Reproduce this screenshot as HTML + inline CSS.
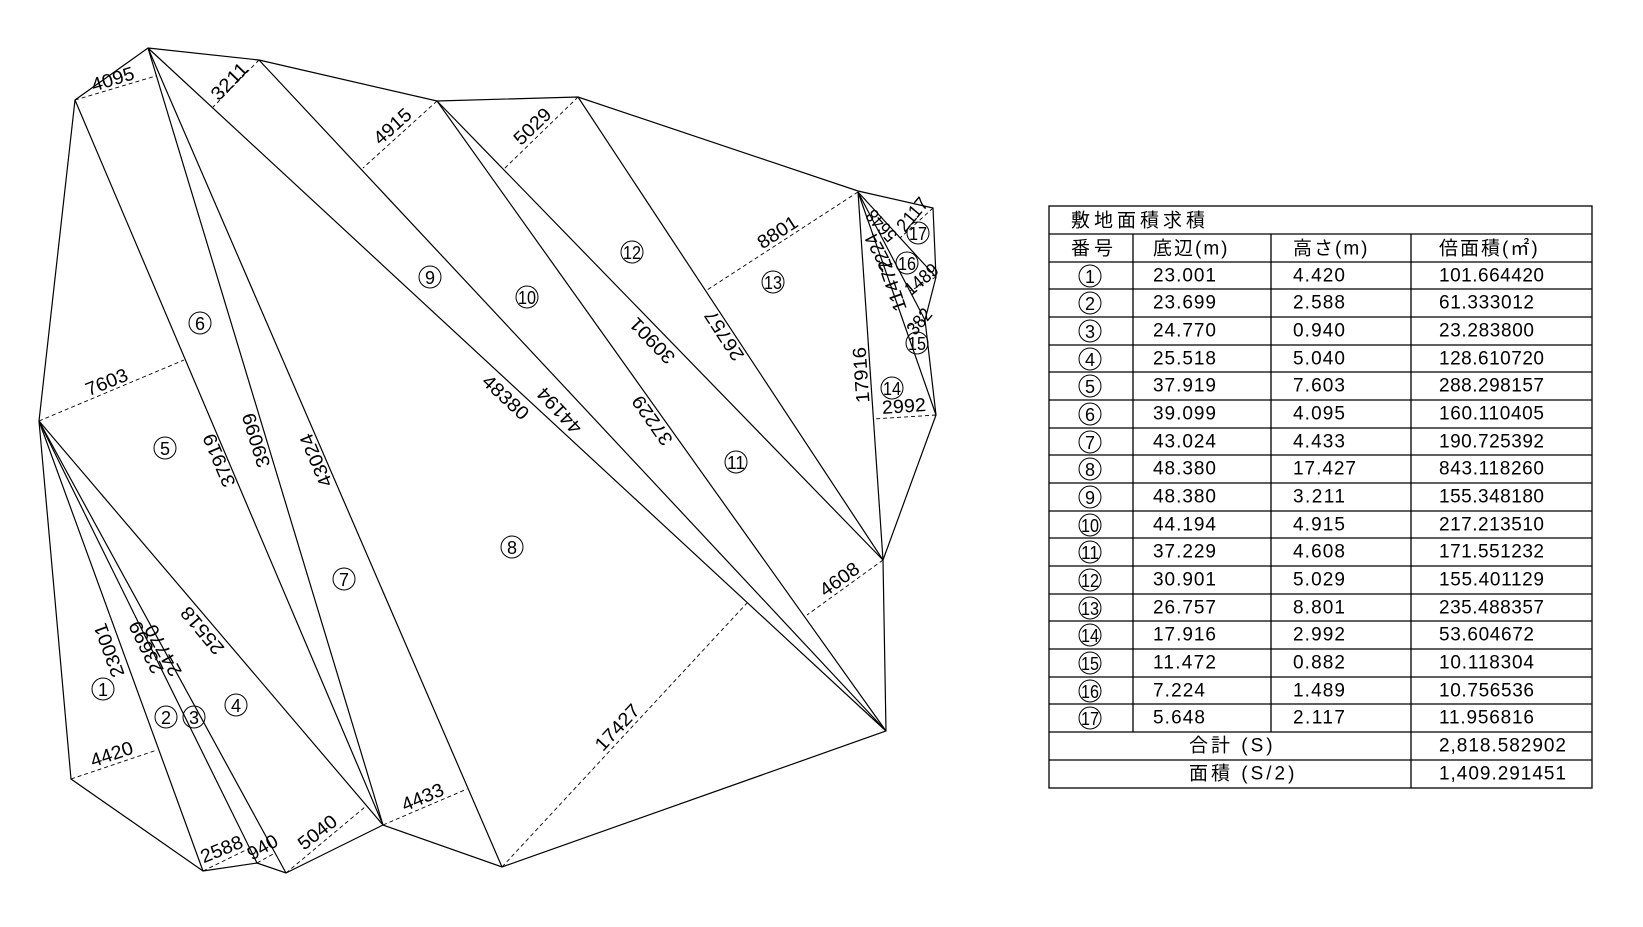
<!DOCTYPE html>
<html><head><meta charset="utf-8"><style>
html,body{margin:0;padding:0;background:#fff;width:1643px;height:927px;overflow:hidden}
svg{display:block;position:absolute;left:0;top:0}
</style></head><body>
<svg width="1643" height="927" viewBox="0 0 1643 927" xmlns="http://www.w3.org/2000/svg" font-family="'Liberation Sans', sans-serif">
<g fill="none" stroke="#000" stroke-width="1.2">
<polygon points="148,48 259,60 437,101 578,97 858,191 933,208 936,277 925,320 936,415 883,560 886,731 502,867 383,825 286,873 257,863 203,871 71,779 39,421 75,100"/>
<line x1="148" y1="48" x2="383" y2="825"/>
<line x1="148" y1="48" x2="502" y2="867"/>
<line x1="148" y1="48" x2="886" y2="731"/>
<line x1="75" y1="100" x2="383" y2="825"/>
<line x1="39" y1="421" x2="203" y2="871"/>
<line x1="39" y1="421" x2="257" y2="863"/>
<line x1="39" y1="421" x2="286" y2="873"/>
<line x1="39" y1="421" x2="383" y2="825"/>
<line x1="259" y1="60" x2="886" y2="731"/>
<line x1="437" y1="101" x2="886" y2="731"/>
<line x1="437" y1="101" x2="883" y2="560"/>
<line x1="578" y1="97" x2="883" y2="560"/>
<line x1="858" y1="192" x2="883" y2="560"/>
<line x1="858" y1="192" x2="936" y2="415"/>
<line x1="858" y1="192" x2="925" y2="320"/>
<line x1="858" y1="192" x2="936" y2="277"/>
</g>
<g fill="none" stroke="#000" stroke-width="0.9" stroke-dasharray="4,3">
<line x1="75" y1="100" x2="156" y2="76"/>
<line x1="259" y1="60" x2="213" y2="107"/>
<line x1="437" y1="101" x2="363" y2="168"/>
<line x1="39" y1="421" x2="184" y2="360"/>
<line x1="578" y1="97" x2="504" y2="169"/>
<line x1="858" y1="192" x2="707" y2="290"/>
<line x1="71" y1="779" x2="157" y2="750"/>
<line x1="203" y1="871" x2="250" y2="848"/>
<line x1="257" y1="863" x2="275" y2="853"/>
<line x1="286" y1="873" x2="365" y2="807"/>
<line x1="383" y1="825" x2="467" y2="789"/>
<line x1="502" y1="867" x2="747" y2="603"/>
<line x1="883" y1="560" x2="807" y2="615"/>
<line x1="936" y1="415" x2="873" y2="419"/>
<line x1="925" y1="320" x2="905" y2="327"/>
<line x1="936" y1="277" x2="910" y2="291"/>
<line x1="933" y1="208" x2="900" y2="238"/>
</g>
<g font-size="19" fill="#000" text-anchor="middle" dominant-baseline="central">
<text transform="translate(113,80) rotate(-17)" textLength="44" lengthAdjust="spacingAndGlyphs">4095</text>
<text transform="translate(230,82) rotate(-46)" textLength="44" lengthAdjust="spacingAndGlyphs">3211</text>
<text transform="translate(393,127) rotate(-42)" textLength="44" lengthAdjust="spacingAndGlyphs">4915</text>
<text transform="translate(107,383) rotate(-22)" textLength="44" lengthAdjust="spacingAndGlyphs">7603</text>
<text transform="translate(533,127) rotate(-44)" textLength="44" lengthAdjust="spacingAndGlyphs">5029</text>
<text transform="translate(778,233) rotate(-33)" textLength="44" lengthAdjust="spacingAndGlyphs">8801</text>
<text transform="translate(505,398) rotate(43)" textLength="56" lengthAdjust="spacingAndGlyphs">48380</text>
<text transform="translate(560,410) rotate(-133)" textLength="56" lengthAdjust="spacingAndGlyphs">44194</text>
<text transform="translate(653,420) rotate(-125)" textLength="56" lengthAdjust="spacingAndGlyphs">37229</text>
<text transform="translate(653,340) rotate(-134)" textLength="56" lengthAdjust="spacingAndGlyphs">30901</text>
<text transform="translate(725,335) rotate(-123)" textLength="56" lengthAdjust="spacingAndGlyphs">26757</text>
<text transform="translate(862,375) rotate(-94)" textLength="56" lengthAdjust="spacingAndGlyphs">17916</text>
<text transform="translate(893,285) rotate(-109)" textLength="54" lengthAdjust="spacingAndGlyphs">11472</text>
<text transform="translate(880,252) rotate(-118)" textLength="40" lengthAdjust="spacingAndGlyphs">7224</text>
<text transform="translate(882,225) rotate(-132)" textLength="36" lengthAdjust="spacingAndGlyphs">5648</text>
<text transform="translate(913,215) rotate(-50)" textLength="38" lengthAdjust="spacingAndGlyphs">2117</text>
<text transform="translate(922,280) rotate(-40)" textLength="38" lengthAdjust="spacingAndGlyphs">1489</text>
<text transform="translate(920,322) rotate(-50)" textLength="28" lengthAdjust="spacingAndGlyphs">382</text>
<text transform="translate(904,407) rotate(-4)" textLength="44" lengthAdjust="spacingAndGlyphs">2992</text>
<text transform="translate(840,580) rotate(-36)" textLength="44" lengthAdjust="spacingAndGlyphs">4608</text>
<text transform="translate(618,728) rotate(-47)" textLength="56" lengthAdjust="spacingAndGlyphs">17427</text>
<text transform="translate(423,798) rotate(-23)" textLength="44" lengthAdjust="spacingAndGlyphs">4433</text>
<text transform="translate(318,833) rotate(-38)" textLength="44" lengthAdjust="spacingAndGlyphs">5040</text>
<text transform="translate(263,848) rotate(-30)" textLength="32" lengthAdjust="spacingAndGlyphs">940</text>
<text transform="translate(222,850) rotate(-22)" textLength="44" lengthAdjust="spacingAndGlyphs">2588</text>
<text transform="translate(112,755) rotate(-19)" textLength="44" lengthAdjust="spacingAndGlyphs">4420</text>
<text transform="translate(220,460) rotate(-113)" textLength="56" lengthAdjust="spacingAndGlyphs">37919</text>
<text transform="translate(257,440) rotate(-107)" textLength="56" lengthAdjust="spacingAndGlyphs">39099</text>
<text transform="translate(317,460) rotate(-113)" textLength="56" lengthAdjust="spacingAndGlyphs">43024</text>
<text transform="translate(203,630) rotate(-130)" textLength="56" lengthAdjust="spacingAndGlyphs">25518</text>
<text transform="translate(110,650) rotate(-110)" textLength="56" lengthAdjust="spacingAndGlyphs">23001</text>
<text transform="translate(147,647) rotate(-116)" textLength="56" lengthAdjust="spacingAndGlyphs">23699</text>
<text transform="translate(164,650) rotate(-119)" textLength="56" lengthAdjust="spacingAndGlyphs">24770</text>
</g>
<g font-size="18" fill="#000" text-anchor="middle" dominant-baseline="central">
<g fill="none" stroke="#000" stroke-width="1">
<circle cx="103" cy="689" r="11"/><circle cx="166" cy="717" r="11"/><circle cx="194" cy="717" r="11"/><circle cx="236" cy="705" r="11"/>
<circle cx="165" cy="448" r="11"/><circle cx="200" cy="323" r="11"/><circle cx="344" cy="579" r="11"/><circle cx="512" cy="547" r="11"/>
<circle cx="430" cy="277" r="11"/><circle cx="527" cy="297" r="11"/><circle cx="736" cy="462" r="11"/><circle cx="632" cy="252" r="11"/>
<circle cx="773" cy="282" r="11"/><circle cx="892" cy="388" r="11"/><circle cx="917" cy="343" r="11"/><circle cx="907" cy="263" r="11"/><circle cx="918" cy="233" r="11"/>
</g>
<text x="103" y="690">1</text><text x="166" y="718">2</text><text x="194" y="718">3</text><text x="236" y="706">4</text>
<text x="165" y="449">5</text><text x="200" y="324">6</text><text x="344" y="580">7</text><text x="512" y="548">8</text>
<text x="430" y="278">9</text>
<text x="527" y="298" textLength="18" lengthAdjust="spacingAndGlyphs">10</text>
<text x="736" y="463" textLength="18" lengthAdjust="spacingAndGlyphs">11</text>
<text x="632" y="253" textLength="18" lengthAdjust="spacingAndGlyphs">12</text>
<text x="773" y="283" textLength="18" lengthAdjust="spacingAndGlyphs">13</text>
<text x="892" y="389" textLength="18" lengthAdjust="spacingAndGlyphs">14</text>
<text x="917" y="344" textLength="18" lengthAdjust="spacingAndGlyphs">15</text>
<text x="907" y="264" textLength="18" lengthAdjust="spacingAndGlyphs">16</text>
<text x="918" y="234" textLength="18" lengthAdjust="spacingAndGlyphs">17</text>
</g>
</svg>

<svg width="1643" height="927" viewBox="0 0 1643 927" xmlns="http://www.w3.org/2000/svg" font-family="'Liberation Sans','Noto Sans CJK JP',sans-serif">
<g stroke="#000" stroke-width="1.3" fill="none">
<rect x="1049" y="206" width="543" height="582"/>
<line x1="1049" y1="234" x2="1592" y2="234"/>
<line x1="1049" y1="262" x2="1592" y2="262"/>
<line x1="1049" y1="289" x2="1592" y2="289"/>
<line x1="1049" y1="317" x2="1592" y2="317"/>
<line x1="1049" y1="345" x2="1592" y2="345"/>
<line x1="1049" y1="372" x2="1592" y2="372"/>
<line x1="1049" y1="400" x2="1592" y2="400"/>
<line x1="1049" y1="428" x2="1592" y2="428"/>
<line x1="1049" y1="455" x2="1592" y2="455"/>
<line x1="1049" y1="483" x2="1592" y2="483"/>
<line x1="1049" y1="511" x2="1592" y2="511"/>
<line x1="1049" y1="538" x2="1592" y2="538"/>
<line x1="1049" y1="566" x2="1592" y2="566"/>
<line x1="1049" y1="594" x2="1592" y2="594"/>
<line x1="1049" y1="621" x2="1592" y2="621"/>
<line x1="1049" y1="649" x2="1592" y2="649"/>
<line x1="1049" y1="677" x2="1592" y2="677"/>
<line x1="1049" y1="704" x2="1592" y2="704"/>
<line x1="1049" y1="732" x2="1592" y2="732"/>
<line x1="1049" y1="760" x2="1592" y2="760"/>
<line x1="1133" y1="234" x2="1133" y2="732"/>
<line x1="1271" y1="234" x2="1271" y2="732"/>
<line x1="1411" y1="234" x2="1411" y2="788"/>
</g>
<g fill="none" stroke="#000" stroke-width="1">
<circle cx="1090" cy="276" r="11"/><circle cx="1090" cy="303" r="11"/><circle cx="1090" cy="331" r="11"/><circle cx="1090" cy="359" r="11"/>
<circle cx="1090" cy="386" r="11"/><circle cx="1090" cy="414" r="11"/><circle cx="1090" cy="442" r="11"/><circle cx="1090" cy="469" r="11"/>
<circle cx="1090" cy="497" r="11"/><circle cx="1090" cy="525" r="11"/><circle cx="1090" cy="552" r="11"/><circle cx="1090" cy="580" r="11"/>
<circle cx="1090" cy="608" r="11"/><circle cx="1090" cy="635" r="11"/><circle cx="1090" cy="663" r="11"/><circle cx="1090" cy="691" r="11"/><circle cx="1090" cy="718" r="11"/>
</g>
<g font-size="19" fill="#000" dominant-baseline="central">
<text x="1071" y="221" letter-spacing="4">敷地面積求積</text>
<text x="1071" y="249" letter-spacing="4">番号</text>
<text x="1153" y="249" letter-spacing="2">底辺(m)</text>
<text x="1293" y="249" letter-spacing="2">高さ(m)</text>
<text x="1439" y="249" letter-spacing="2">倍面積(㎡)</text>
<g text-anchor="middle" font-size="18">
<text x="1090" y="277">1</text><text x="1090" y="304">2</text><text x="1090" y="332">3</text><text x="1090" y="360">4</text>
<text x="1090" y="387">5</text><text x="1090" y="415">6</text><text x="1090" y="443">7</text><text x="1090" y="470">8</text>
<text x="1090" y="498">9</text>
<text x="1090" y="526" textLength="18" lengthAdjust="spacingAndGlyphs">10</text>
<text x="1090" y="553" textLength="18" lengthAdjust="spacingAndGlyphs">11</text>
<text x="1090" y="581" textLength="18" lengthAdjust="spacingAndGlyphs">12</text>
<text x="1090" y="609" textLength="18" lengthAdjust="spacingAndGlyphs">13</text>
<text x="1090" y="636" textLength="18" lengthAdjust="spacingAndGlyphs">14</text>
<text x="1090" y="664" textLength="18" lengthAdjust="spacingAndGlyphs">15</text>
<text x="1090" y="692" textLength="18" lengthAdjust="spacingAndGlyphs">16</text>
<text x="1090" y="719" textLength="18" lengthAdjust="spacingAndGlyphs">17</text>
</g>
<g lengthAdjust="spacingAndGlyphs">
<text x="1153" y="276" textLength="63">23.001</text><text x="1293" y="276" textLength="52">4.420</text><text x="1439" y="276" textLength="105">101.664420</text>
<text x="1153" y="303" textLength="63">23.699</text><text x="1293" y="303" textLength="52">2.588</text><text x="1439" y="303" textLength="95">61.333012</text>
<text x="1153" y="331" textLength="63">24.770</text><text x="1293" y="331" textLength="52">0.940</text><text x="1439" y="331" textLength="95">23.283800</text>
<text x="1153" y="359" textLength="63">25.518</text><text x="1293" y="359" textLength="52">5.040</text><text x="1439" y="359" textLength="105">128.610720</text>
<text x="1153" y="386" textLength="63">37.919</text><text x="1293" y="386" textLength="52">7.603</text><text x="1439" y="386" textLength="105">288.298157</text>
<text x="1153" y="414" textLength="63">39.099</text><text x="1293" y="414" textLength="52">4.095</text><text x="1439" y="414" textLength="105">160.110405</text>
<text x="1153" y="442" textLength="63">43.024</text><text x="1293" y="442" textLength="52">4.433</text><text x="1439" y="442" textLength="105">190.725392</text>
<text x="1153" y="469" textLength="63">48.380</text><text x="1293" y="469" textLength="63">17.427</text><text x="1439" y="469" textLength="105">843.118260</text>
<text x="1153" y="497" textLength="63">48.380</text><text x="1293" y="497" textLength="52">3.211</text><text x="1439" y="497" textLength="105">155.348180</text>
<text x="1153" y="525" textLength="63">44.194</text><text x="1293" y="525" textLength="52">4.915</text><text x="1439" y="525" textLength="105">217.213510</text>
<text x="1153" y="552" textLength="63">37.229</text><text x="1293" y="552" textLength="52">4.608</text><text x="1439" y="552" textLength="105">171.551232</text>
<text x="1153" y="580" textLength="63">30.901</text><text x="1293" y="580" textLength="52">5.029</text><text x="1439" y="580" textLength="105">155.401129</text>
<text x="1153" y="608" textLength="63">26.757</text><text x="1293" y="608" textLength="52">8.801</text><text x="1439" y="608" textLength="105">235.488357</text>
<text x="1153" y="635" textLength="63">17.916</text><text x="1293" y="635" textLength="52">2.992</text><text x="1439" y="635" textLength="95">53.604672</text>
<text x="1153" y="663" textLength="63">11.472</text><text x="1293" y="663" textLength="52">0.882</text><text x="1439" y="663" textLength="95">10.118304</text>
<text x="1153" y="691" textLength="52">7.224</text><text x="1293" y="691" textLength="52">1.489</text><text x="1439" y="691" textLength="95">10.756536</text>
<text x="1153" y="718" textLength="52">5.648</text><text x="1293" y="718" textLength="52">2.117</text><text x="1439" y="718" textLength="95">11.956816</text>
<text x="1439" y="746" textLength="127">2,818.582902</text>
<text x="1439" y="774" textLength="127">1,409.291451</text>
</g>
<text x="1189" y="746" letter-spacing="3">合計 (S)</text>
<text x="1189" y="774" letter-spacing="3">面積 (S/2)</text>
</g>
</svg>
</body></html>
